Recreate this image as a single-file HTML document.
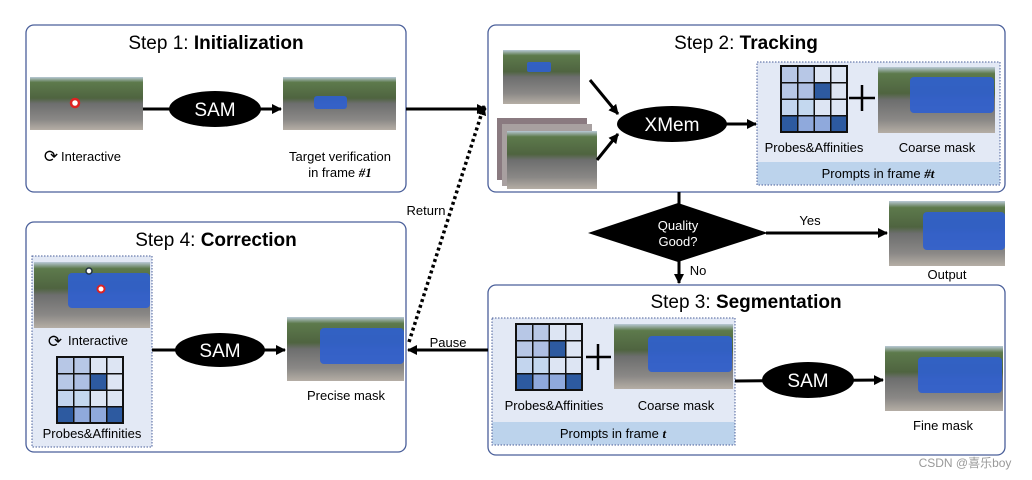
<!DOCTYPE html>
<html><head><meta charset="utf-8"><style>
body{margin:0;background:#fff;}
svg{display:block;font-family:"Liberation Sans",Arial,sans-serif;}
</style></head><body>
<svg width="1032" height="480" viewBox="0 0 1032 480" xmlns="http://www.w3.org/2000/svg">
<defs>
<marker id="ah" markerWidth="10" markerHeight="10" refX="9" refY="5" orient="auto" markerUnits="userSpaceOnUse"><path d="M0,0 L10,5 L0,10 z" fill="#000"/></marker>
<linearGradient id="photo" x1="0" y1="0" x2="0" y2="1">
<stop offset="0" stop-color="#b9c9d6"/><stop offset="0.1" stop-color="#5d7a4c"/><stop offset="0.4" stop-color="#4f6440"/><stop offset="0.5" stop-color="#6d6e6e"/><stop offset="0.8" stop-color="#8a8886"/><stop offset="1" stop-color="#b5aea5"/>
</linearGradient>
<g id="grid">
<rect x="0" y="0" width="68" height="68" fill="#111"/>
<rect x="2" y="2" width="15" height="15" fill="#b7c7e6"/><rect x="18.5" y="2" width="15" height="15" fill="#b7c7e6"/><rect x="35" y="2" width="15" height="15" fill="#dde5f3"/><rect x="51.5" y="2" width="14.5" height="15" fill="#dde5f3"/>
<rect x="2" y="18.5" width="15" height="15" fill="#b7c7e6"/><rect x="18.5" y="18.5" width="15" height="15" fill="#aebfe3"/><rect x="35" y="18.5" width="15" height="15" fill="#2d5aa0"/><rect x="51.5" y="18.5" width="14.5" height="15" fill="#dde5f3"/>
<rect x="2" y="35" width="15" height="15" fill="#c3d5ee"/><rect x="18.5" y="35" width="15" height="15" fill="#c4d8ef"/><rect x="35" y="35" width="15" height="15" fill="#dde5f3"/><rect x="51.5" y="35" width="14.5" height="15" fill="#dde5f3"/>
<rect x="2" y="51.5" width="15" height="14.5" fill="#2d5aa0"/><rect x="18.5" y="51.5" width="15" height="14.5" fill="#8fa9dc"/><rect x="35" y="51.5" width="15" height="14.5" fill="#8fa9dc"/><rect x="51.5" y="51.5" width="14.5" height="14.5" fill="#2d5aa0"/>
</g>
</defs>
<style>
.box{fill:#fff;stroke:#4a5f9a;stroke-width:1.3;}
.t{font-size:19px;text-anchor:middle;}
.l{font-size:13px;text-anchor:middle;}
.w{fill:#fff;text-anchor:middle;}
.ln{stroke:#000;stroke-width:3;fill:none;}
.pan{fill:#e3e9f5;stroke:#4a5f9a;stroke-width:1;stroke-dasharray:1.5,1.5;}
.bus{fill:#2f5fd0;opacity:0.9;}
</style>
<!-- boxes -->
<rect class="box" x="26" y="25" width="380" height="167" rx="8"/>
<rect class="box" x="488" y="25" width="517" height="167" rx="8"/>
<rect class="box" x="26" y="222" width="380" height="230" rx="8"/>
<rect class="box" x="488" y="285" width="517" height="170" rx="8"/>
<text class="t" x="216" y="49">Step 1: <tspan font-weight="bold">Initialization</tspan></text>
<text class="t" x="746" y="49">Step 2: <tspan font-weight="bold">Tracking</tspan></text>
<text class="t" x="216" y="246">Step 4: <tspan font-weight="bold">Correction</tspan></text>
<text class="t" x="746" y="308">Step 3: <tspan font-weight="bold">Segmentation</tspan></text>

<!-- Step1 -->
<rect x="30" y="77" width="113" height="53" fill="url(#photo)"/>
<circle cx="75" cy="103" r="4" fill="#fff" stroke="#d22" stroke-width="2.5"/>
<line class="ln" x1="143" y1="109" x2="281" y2="109" marker-end="url(#ah)"/>
<ellipse cx="215" cy="109" rx="46" ry="18" fill="#000"/>
<text class="w" x="215" y="116" font-size="19">SAM</text>
<rect x="283" y="77" width="113" height="53" fill="url(#photo)"/>
<rect class="bus" x="314" y="96" width="33" height="13" rx="3"/>
<text class="l" x="91" y="161">Interactive</text>
<text x="51" y="162" font-size="17" text-anchor="middle">⟳</text>
<text class="l" x="340" y="161">Target verification</text>
<text class="l" x="340" y="177">in frame <tspan font-style="italic" font-family="Liberation Serif" font-weight="bold">#1</tspan></text>
<line class="ln" x1="406" y1="109" x2="486" y2="109" marker-end="url(#ah)"/>

<!-- Step2 -->
<rect x="503" y="50" width="77" height="54" fill="url(#photo)"/>
<rect class="bus" x="527" y="62" width="24" height="10" rx="2"/>
<rect x="497" y="118" width="90" height="62" fill="#8a7a80"/>
<rect x="502" y="124" width="90" height="62" fill="#a8a0a0"/>
<rect x="507" y="131" width="90" height="58" fill="url(#photo)"/>
<line class="ln" x1="590" y1="80" x2="618" y2="114" marker-end="url(#ah)"/>
<line class="ln" x1="597" y1="160" x2="618" y2="134" marker-end="url(#ah)"/>
<ellipse cx="672" cy="124" rx="55" ry="18" fill="#000"/>
<text class="w" x="672" y="131" font-size="19">XMem</text>
<line class="ln" x1="724" y1="124" x2="756" y2="124" marker-end="url(#ah)"/>
<rect class="pan" x="757" y="62" width="243" height="123"/>
<rect x="757.5" y="162" width="242" height="22.5" fill="#bcd3ec"/>
<use href="#grid" x="780" y="65"/>
<path d="M849 98 H875 M862 85 V111" stroke="#000" stroke-width="2.5"/>
<rect x="878" y="67" width="117" height="66" fill="url(#photo)"/>
<rect class="bus" x="910" y="77" width="84" height="36" rx="4"/>
<text class="l" x="814" y="152">Probes&amp;Affinities</text>
<text class="l" x="937" y="152">Coarse mask</text>
<text class="l" x="878" y="178">Prompts in frame <tspan font-style="italic" font-family="Liberation Serif" font-weight="bold">#t</tspan></text>

<!-- decision -->
<line class="ln" x1="679" y1="192" x2="679" y2="210"/>
<polygon points="588,233 678,203 768,233 678,262" fill="#000"/>
<text class="w" x="678" y="230" font-size="13">Quality</text>
<text class="w" x="678" y="246" font-size="13">Good?</text>
<line class="ln" x1="766" y1="233" x2="887" y2="233" marker-end="url(#ah)"/>
<text class="l" x="810" y="225">Yes</text>
<line class="ln" x1="679" y1="260" x2="679" y2="283" marker-end="url(#ah)"/>
<text class="l" x="698" y="275">No</text>
<rect x="889" y="201" width="116" height="65" fill="url(#photo)"/>
<rect class="bus" x="923" y="212" width="82" height="38" rx="4"/>
<text class="l" x="947" y="279">Output</text>

<!-- Step3 -->
<rect class="pan" x="492" y="318" width="243" height="127"/>
<rect x="492.5" y="422" width="242" height="22.5" fill="#bcd3ec"/>
<use href="#grid" x="515" y="323"/>
<path d="M586 357 H611 M598 344 V370" stroke="#000" stroke-width="2.5"/>
<rect x="614" y="324" width="119" height="65" fill="url(#photo)"/>
<rect class="bus" x="648" y="336" width="84" height="36" rx="4"/>
<text class="l" x="554" y="410">Probes&amp;Affinities</text>
<text class="l" x="676" y="410">Coarse mask</text>
<text class="l" x="613" y="438">Prompts in frame <tspan font-style="italic" font-family="Liberation Serif" font-weight="bold">t</tspan></text>
<line class="ln" x1="735" y1="381" x2="883" y2="380" marker-end="url(#ah)"/>
<ellipse cx="808" cy="380" rx="46" ry="18" fill="#000"/>
<text class="w" x="808" y="387" font-size="19">SAM</text>
<rect x="885" y="346" width="118" height="65" fill="url(#photo)"/>
<rect class="bus" x="918" y="357" width="84" height="36" rx="4"/>
<text class="l" x="943" y="430">Fine mask</text>

<!-- Step4 -->
<rect class="pan" x="32" y="256" width="120" height="191"/>
<rect x="34" y="262" width="116" height="66" fill="url(#photo)"/>
<rect class="bus" x="68" y="273" width="82" height="35" rx="4"/>
<circle cx="101" cy="289" r="3.5" fill="#fff" stroke="#d22" stroke-width="2"/>
<circle cx="89" cy="271" r="3" fill="#fff" stroke="#234" stroke-width="1.5"/>
<text x="55" y="347" font-size="17" text-anchor="middle">⟳</text>
<text class="l" x="98" y="345">Interactive</text>
<use href="#grid" x="56" y="356"/>
<text class="l" x="92" y="438">Probes&amp;Affinities</text>
<line class="ln" x1="152" y1="350" x2="285" y2="350" marker-end="url(#ah)"/>
<ellipse cx="220" cy="350" rx="45" ry="17" fill="#000"/>
<text class="w" x="220" y="357" font-size="19">SAM</text>
<rect x="287" y="317" width="117" height="64" fill="url(#photo)"/>
<rect class="bus" x="320" y="328" width="84" height="36" rx="4"/>
<text class="l" x="346" y="400">Precise mask</text>

<!-- Pause / Return -->
<line class="ln" x1="488" y1="350" x2="408" y2="350" marker-end="url(#ah)"/>
<text class="l" x="448" y="347">Pause</text>
<line x1="409" y1="342" x2="484" y2="106" stroke="#000" stroke-width="3.5" stroke-dasharray="3,3" marker-end="url(#ah)"/>
<text class="l" x="426" y="215">Return</text>

<text x="965" y="467" font-size="12" fill="#999" text-anchor="middle" font-family="Liberation Sans, 'Noto Sans CJK SC', sans-serif">CSDN @喜乐boy</text>
</svg>
</body></html>
